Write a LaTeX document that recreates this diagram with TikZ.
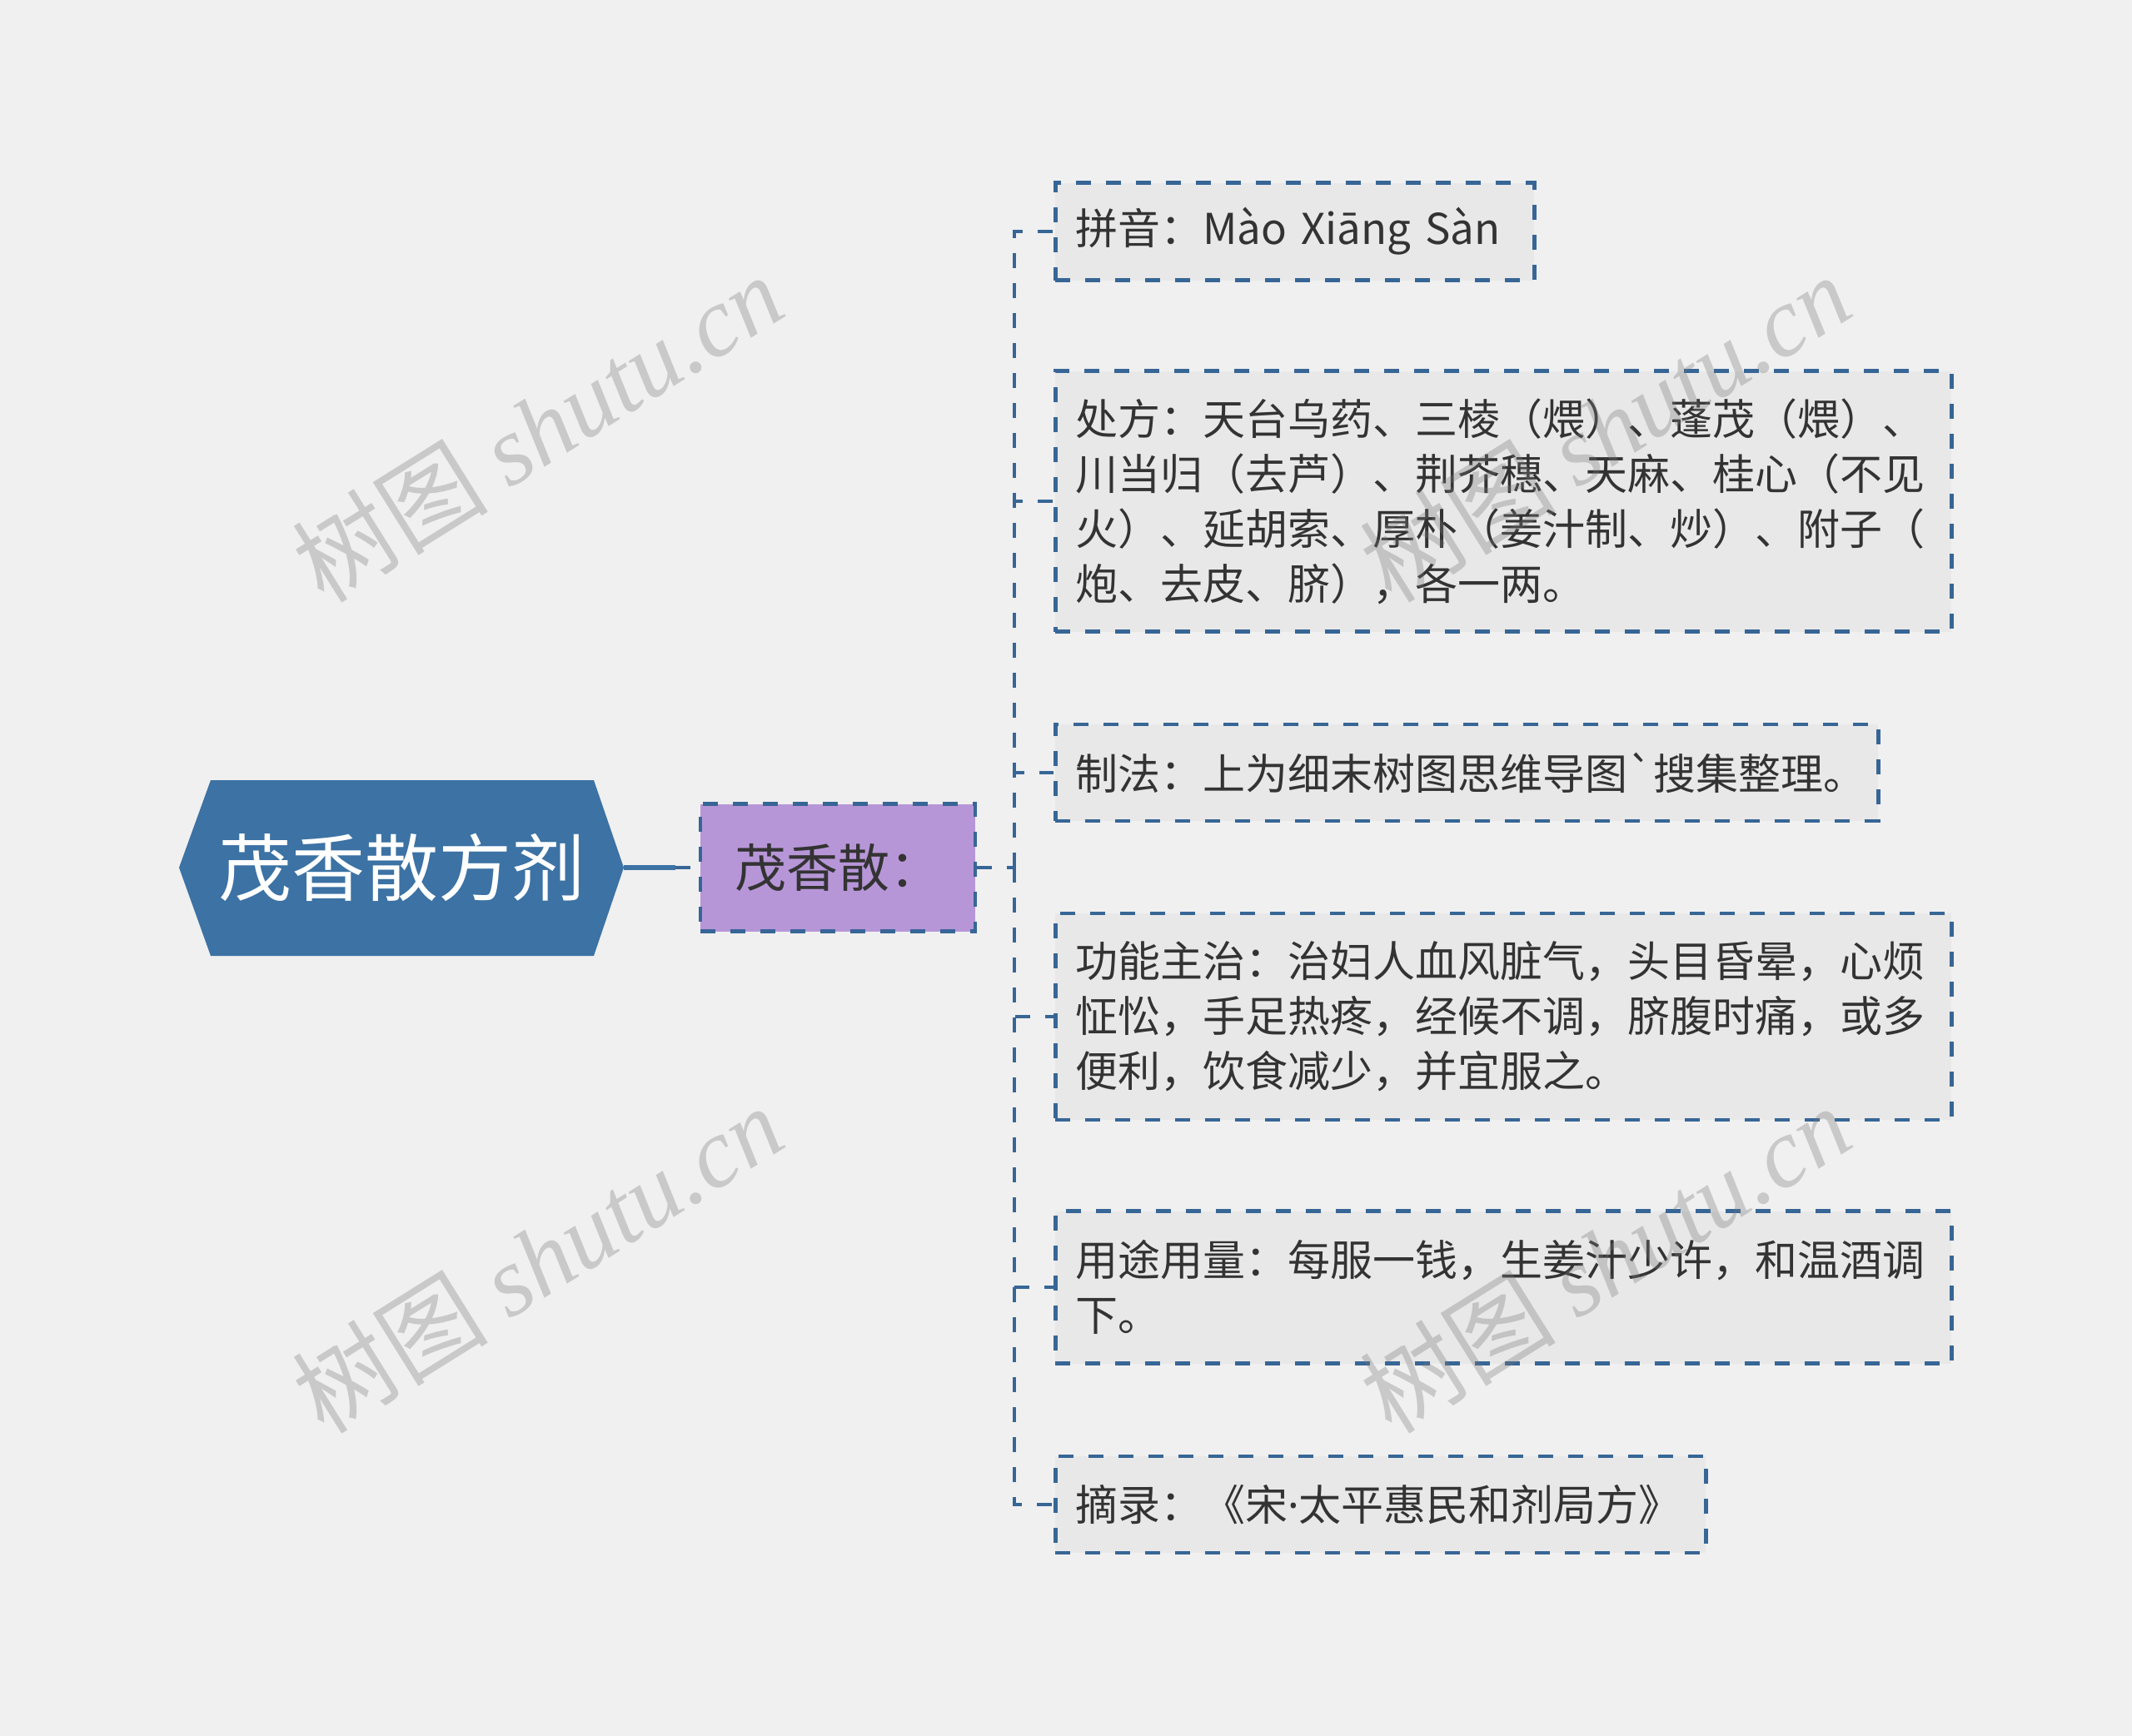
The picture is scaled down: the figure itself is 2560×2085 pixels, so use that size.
\documentclass[tikz,border=0pt]{standalone}
\usepackage{fontspec}
\setmainfont{Noto Sans CJK SC}[Ligatures=TeXOff]
\newfontfamily\wmlatin{Liberation Serif}
\newfontfamily\latinsans{Noto Sans}
\usetikzlibrary{calc}
\definecolor{bg}{RGB}{240,240,240}
\definecolor{leafbg}{RGB}{232,232,232}
\definecolor{lineblue}{RGB}{55,102,150}
\definecolor{rootblue}{RGB}{60,114,164}
\definecolor{childpurple}{RGB}{183,150,216}
\definecolor{txt}{RGB}{51,51,51}
\definecolor{wmgray}{RGB}{120,120,120}
\begin{document}
\begin{tikzpicture}[x=1pt,y=-1pt,
  leaf/.style={draw=lineblue, line width=4.5pt, dash pattern=on 18pt off 18pt,
    fill=leafbg, anchor=west, align=left, inner xsep=24pt, inner ysep=0pt,
    text=txt, font=\fontsize{51}{66}\selectfont},
  conn/.style={draw=lineblue, line width=4.5pt, dash pattern=on 18pt off 18pt},
  wm/.style={text=wmgray, text opacity=0.32, font=\fontsize{118}{124}\selectfont, rotate=32, inner sep=0pt}]
\fill[bg] (0,0) rectangle (2560,2085);
\useasboundingbox (0,0) rectangle (2560,2085);
% root hexagon
\fill[rootblue] (215,1042) -- (253,937) -- (713,937) -- (749,1042) -- (713,1148) -- (253,1148) -- cycle;
\node[minimum width=534pt, minimum height=211pt, inner sep=0pt, text=white,
  font=\fontsize{88}{96}\selectfont] (root) at (482,1042) {茂香散方剂};
% child
\node[draw=lineblue, line width=4.5pt, dash pattern=on 18pt off 18pt, fill=childpurple,
  minimum width=330pt, minimum height=153pt, inner sep=0pt, text=txt,
  font=\fontsize{62}{70}\selectfont] (child) at (1006,1042) {茂香散：};
% leaves
\node[leaf, text width=527pt, minimum height=117pt] (l1) at (1265,278) {拼音：Mào Xiāng Sàn};
\node[leaf, text width=1028pt, minimum height=313pt] (l2) at (1265,602) {处方：天台乌药、三棱（煨）、蓬茂（煨）、\\川当归（去芦）、荆芥穗、天麻、桂心（不见\\火）、延胡索、厚朴（姜汁制、炒）、附子（\\炮、去皮、脐），各一两。};
\node[leaf, text width=940pt, minimum height=116pt] (l3) at (1265,928) {制法：上为细末树图思维导图`搜集整理。};
\node[leaf, text width=1028pt, minimum height=248pt] (l4) at (1265,1221) {功能主治：治妇人血风脏气，头目昏晕，心烦\\怔忪，手足热疼，经候不调，脐腹时痛，或多\\便利，饮食减少，并宜服之。};
\node[leaf, text width=1028pt, minimum height=183pt] (l5) at (1265,1546) {用途用量：每服一钱，生姜汁少许，和温酒调\\下。};
\node[leaf, text width=733pt, minimum height=116pt] (l6) at (1265,1807) {摘录：《宋{\latinsans ·}太平惠民和剂局方》};
% connectors
\coordinate (jr) at (811,1042);
\coordinate (sp) at (1218,1042);
\draw[draw=rootblue, line width=6pt] (root.east) -- (jr);
\draw[conn] (jr) -- (child.west);
\draw[conn] (child.east) -- (sp);
\foreach \l in {l1,l2,l3,l4,l5,l6}{\draw[conn] (sp) |- (\l.west);}
% watermarks (drawn over the diagram, as in the reference)
\node[wm] (wm1) at (645,514) {树图 {\wmlatin\itshape shutu.cn}};
\node[wm] (wm2) at (645,1512) {树图 {\wmlatin\itshape shutu.cn}};
\node[wm] (wm3) at (1927,514) {树图 {\wmlatin\itshape shutu.cn}};
\node[wm] (wm4) at (1927,1512) {树图 {\wmlatin\itshape shutu.cn}};
\end{tikzpicture}
\end{document}
